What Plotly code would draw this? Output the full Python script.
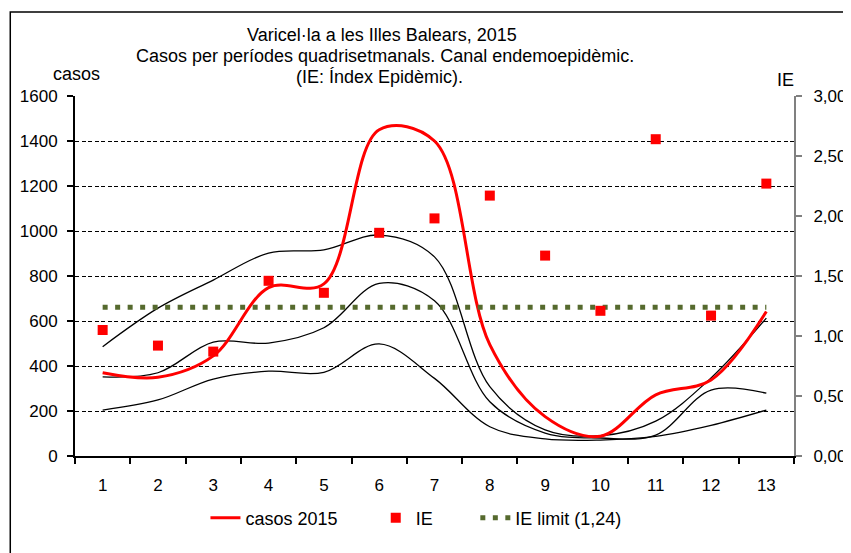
import plotly.graph_objects as go

periodes = list(range(1, 14))
tick_labels = [str(p) for p in periodes]
casos_2015 = [370, 350, 445, 748, 765, 1450, 1400, 495, 175, 88, 272, 338, 642]
canal_alt = [486, 657, 782, 902, 916, 982, 885, 308, 116, 90, 155, 347, 613]
canal_mig = [352, 370, 506, 502, 570, 767, 690, 241, 102, 80, 93, 293, 279]
canal_baix = [204, 249, 342, 377, 372, 498, 345, 130, 76, 71, 87, 136, 204]
ie = [1.05, 0.92, 0.87, 1.46, 1.36, 1.86, 1.98, 2.17, 1.67, 1.21, 2.64, 1.17, 2.27]
ie_limit = [1.24] * 13

OFF = 8  # page body margin
W, H = 851, 553
L, T = 72 - OFF, 96 - OFF
R = W - (794 - OFF)
B = H - (456 - OFF)
PW, PH = W - L - R, H - T - B

def px(x):
    return (x - OFF - L) / PW

def py(y):
    return (H - B - (y - OFF)) / PH

FONT = "Liberation Sans, Arial, sans-serif"

fig = go.Figure()
for vals in (canal_alt, canal_mig, canal_baix):
    fig.add_trace(go.Scatter(x=periodes, y=vals, mode="lines",
                             line=dict(color="black", width=1.3, shape="spline", smoothing=1),
                             showlegend=False, hoverinfo="skip"))
fig.add_trace(go.Scatter(x=periodes, y=casos_2015, mode="lines", name="casos 2015",
                         line=dict(color="#FF0000", width=3, shape="spline", smoothing=1),
                         legend="legend"))
fig.add_trace(go.Scatter(x=periodes, y=ie_limit, mode="lines", name="IE limit (1,24)", yaxis="y2",
                         line=dict(color="#566A2E", width=5, dash="5px,7.5px"),
                         legend="legend3"))
fig.add_trace(go.Scatter(x=periodes, y=ie, mode="markers", name="IE", yaxis="y2",
                         marker=dict(symbol="square", size=10, color="#FF0000"),
                         legend="legend2"))

leg_common = dict(orientation="h", yanchor="middle", y=py(518), xanchor="left",
                  font=dict(family=FONT, size=18, color="black"), bgcolor="rgba(0,0,0,0)")
fig.update_layout(
    width=W, height=H,
    margin=dict(l=L, r=R, t=T, b=B),
    plot_bgcolor="white", paper_bgcolor="white",
    separators=", ",
    font=dict(family=FONT, size=17, color="black"),
    xaxis=dict(range=[0.5, 13.5], tickvals=periodes, ticktext=tick_labels,
               ticks="", showgrid=False, zeroline=False,
               showline=True, linecolor="black", linewidth=2,
               ticklabelstandoff=13,
               minor=dict(tickvals=[i + 0.5 for i in range(0, 14)], ticks="outside",
                          ticklen=6, tickcolor="black", tickwidth=1.5)),
    yaxis=dict(range=[0, 1600], tickvals=list(range(0, 1601, 200)),
               ticks="outside", ticklen=6, tickcolor="black", tickwidth=1.5,
               showline=True, linecolor="black", linewidth=2,
               showgrid=True, gridcolor="black", griddash="4px,2.5px", gridwidth=1.2,
               zeroline=False, ticklabelstandoff=6),
    yaxis2=dict(range=[0, 3], overlaying="y", side="right",
                tickvals=[0, 0.5, 1, 1.5, 2, 2.5, 3], tickformat=".2f",
                ticks="outside", ticklen=6, tickcolor="#808080", tickwidth=1.5,
                showline=True, linecolor="#808080", linewidth=2,
                showgrid=False, zeroline=False, ticklabelstandoff=8),
    legend=dict(leg_common, x=px(203)),
    legend2=dict(leg_common, x=px(374)),
    legend3=dict(leg_common, x=px(474)),
    shapes=[dict(type="rect", xref="paper", yref="paper",
                 x0=px(7), x1=px(900), y0=py(600), y1=py(12),
                 line=dict(color="black", width=1.5), fillcolor="rgba(0,0,0,0)", layer="below")],
    annotations=[
        dict(text="Varicel·la a les Illes Balears, 2015", x=px(380), y=py(35), font=dict(size=18)),
        dict(text="Casos per períodes quadrisetmanals. Canal endemoepidèmic.", x=px(383), y=py(56), font=dict(size=18)),
        dict(text="(IE: Índex Epidèmic).", x=px(378), y=py(77), font=dict(size=18)),
        dict(text="casos", x=px(74), y=py(74), font=dict(size=18)),
        dict(text="IE", x=px(785), y=py(80), font=dict(size=18)),
    ],
)
for a in fig.layout.annotations:
    a.update(xref="paper", yref="paper", showarrow=False, xanchor="center", yanchor="middle",
             font=dict(family=FONT, color="black"))

fig.write_html("out.html")
